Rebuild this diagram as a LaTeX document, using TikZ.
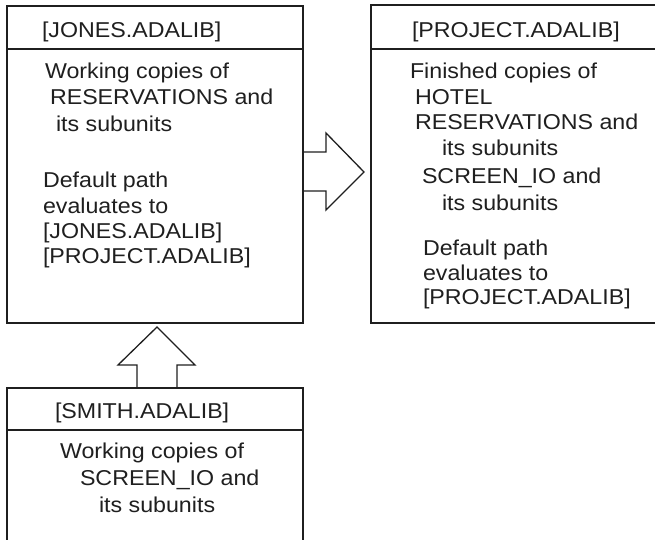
\documentclass[tikz,border=0pt]{standalone}
\usepackage{fontspec}
\setmainfont[FakeStretch=1.08]{Liberation Sans}
\begin{document}
\begin{tikzpicture}[x=1pt,y=-1pt,
  boxline/.style={line width=2pt,draw=black!88},
  arrowline/.style={line width=1.3pt,draw=black!88,line join=miter},
  txt/.style={anchor=base west,inner sep=0pt,outer sep=0pt,font=\fontsize{21.5}{24}\selectfont,text=black!88}]
\useasboundingbox (0,0) rectangle (655,539);
\clip (0,0) rectangle (655,539);
% coordinates of boxes
\coordinate (jnw) at (7,5.5); \coordinate (jse) at (303,323);
\coordinate (pnw) at (370.5,5); \coordinate (pse) at (662,322.5);
\coordinate (snw) at (7,388); \coordinate (sse) at (303,545);
% JONES box
\draw[boxline] (jnw) rectangle (jse);
\draw[boxline] (7,49) -- (303,49);
% PROJECT box (cut off at right)
\draw[boxline] (pnw) rectangle (pse);
\draw[boxline] (370.5,49) -- (662,49);
% SMITH box (cut off at bottom)
\draw[boxline] (snw) rectangle (sse);
\draw[boxline] (7,430) -- (303,430);
% arrows
\draw[arrowline] (303,152) -- (326,152) -- (326,133) -- (364,172) -- (326,210) -- (326,191) -- (303,191);
\draw[arrowline] (137,388) -- (137,365) -- (118,365) -- (157,327) -- (195,365) -- (177,365) -- (177,388);
% JONES texts
\node[txt] (j0) at (42,37) {[JONES.ADALIB]};
\node[txt] (j1) at (45,78) {Working copies of};
\node[txt] (j2) at (50,104) {RESERVATIONS and};
\node[txt] (j3) at (56,131) {its subunits};
\node[txt] (j4) at (43,187) {Default path};
\node[txt] (j5) at (43,213) {evaluates to};
\node[txt] (j6) at (43,238) {[JONES.ADALIB]};
\node[txt] (j7) at (43,263) {[PROJECT.ADALIB]};
% PROJECT texts
\node[txt] (p0) at (412,37) {[PROJECT.ADALIB]};
\node[txt] (p1) at (410,78) {Finished copies of};
\node[txt] (p2) at (415,104) {HOTEL};
\node[txt] (p3) at (415,129) {RESERVATIONS and};
\node[txt] (p4) at (442,155) {its subunits};
\node[txt] (p5) at (422,183) {SCREEN\_IO and};
\node[txt] (p6) at (442,210) {its subunits};
\node[txt] (p7) at (423,255) {Default path};
\node[txt] (p8) at (423,280) {evaluates to};
\node[txt] (p9) at (423,304) {[PROJECT.ADALIB]};
% SMITH texts
\node[txt] (s0) at (55,418) {[SMITH.ADALIB]};
\node[txt] (s1) at (60,458) {Working copies of};
\node[txt] (s2) at (80,485) {SCREEN\_IO and};
\node[txt] (s3) at (99,512) {its subunits};
\end{tikzpicture}
\end{document}
